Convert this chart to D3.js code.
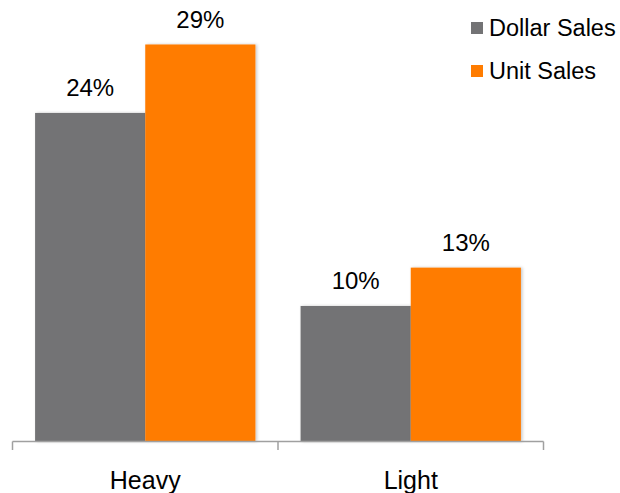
<!DOCTYPE html>
<html>
<head>
<meta charset="utf-8">
<script src="https://cdn.jsdelivr.net/npm/d3@7"></script>
<style>
  html, body { margin: 0; padding: 0; background: #fff; }
  svg { display: block; font-family: "Liberation Sans", Arial, sans-serif; }
</style>
</head>
<body>
<svg id="chart" width="620" height="493"></svg>
<script>
const categories = ["Heavy", "Light"];
const seriesNames = ["Dollar Sales", "Unit Sales"];
const dollarSales = [24, 9.9];
const unitSales = [29, 12.7];
const seriesColors = ["#737375", "#FF7C00"];

const W = 620, H = 493;
const svg = d3.select("#chart");

const defs = svg.append("defs");
const f = defs.append("filter").attr("id", "shadow")
  .attr("x", "-10%").attr("y", "-10%").attr("width", "120%").attr("height", "120%");
f.append("feDropShadow").attr("dx", 1.5).attr("dy", 0).attr("stdDeviation", 1.8)
  .attr("flood-color", "#000").attr("flood-opacity", 0.22);

const baseY = 441.5;
const x0 = d3.scaleBand().domain(categories).range([12.5, 543.5]).paddingInner(0).paddingOuter(0);
const x1 = d3.scaleBand().domain(seriesNames).range([0, x0.bandwidth()]).paddingInner(0).paddingOuter(0.205);
const y = d3.scaleLinear().domain([0, 30]).range([baseY, baseY - 30 * 13.69]);

const seriesValues = [dollarSales, unitSales];
const rows = [];
categories.forEach((c, i) => {
  seriesNames.forEach((s, j) => {
    rows.push({ cat: c, series: s, value: seriesValues[j][i], color: seriesColors[j] });
  });
});

const fmt = v => d3.format(".0f")(v) + "%";

const bars = svg.append("g");
bars.selectAll("rect").data(rows).join("rect")
  .attr("x", d => x0(d.cat) + x1(d.series))
  .attr("y", d => y(d.value))
  .attr("width", x1.bandwidth())
  .attr("height", d => y(0) - y(d.value))
  .attr("fill", d => d.color)
  .attr("filter", "url(#shadow)");

svg.append("g").selectAll("text").data(rows).join("text")
  .attr("x", d => x0(d.cat) + x1(d.series) + x1.bandwidth() / 2)
  .attr("y", d => y(d.value) - 16.5)
  .attr("text-anchor", "middle")
  .attr("font-size", 24)
  .attr("fill", "#000")
  .text(d => fmt(d.value));

// axis
const axis = svg.append("g").attr("stroke", "#a0a0a0").attr("stroke-width", 1.5).attr("fill", "none");
const [r0, r1] = x0.range();
axis.append("line").attr("x1", r0).attr("x2", r1).attr("y1", baseY).attr("y2", baseY);
const tickXs = categories.map(c => x0(c)).concat([r1]);
axis.selectAll("line.tick").data(tickXs).join("line").attr("class", "tick")
  .attr("x1", d => d).attr("x2", d => d).attr("y1", baseY).attr("y2", baseY + 8.5);

svg.append("g").selectAll("text").data(categories).join("text")
  .attr("x", d => x0(d) + x0.bandwidth() / 2)
  .attr("y", 489.3)
  .attr("text-anchor", "middle")
  .attr("font-size", 25)
  .attr("fill", "#000")
  .text(d => d);

// legend
const legend = svg.append("g").attr("transform", "translate(471,0)");
const li = legend.selectAll("g").data(seriesNames).join("g")
  .attr("transform", (d, i) => `translate(0,${22 + i * 43})`);
li.append("rect").attr("width", 12).attr("height", 12).attr("fill", (d, i) => seriesColors[i]);
li.append("text").attr("x", 18).attr("y", 14).attr("font-size", 23.5).attr("fill", "#000").text(d => d);
</script>
</body>
</html>
